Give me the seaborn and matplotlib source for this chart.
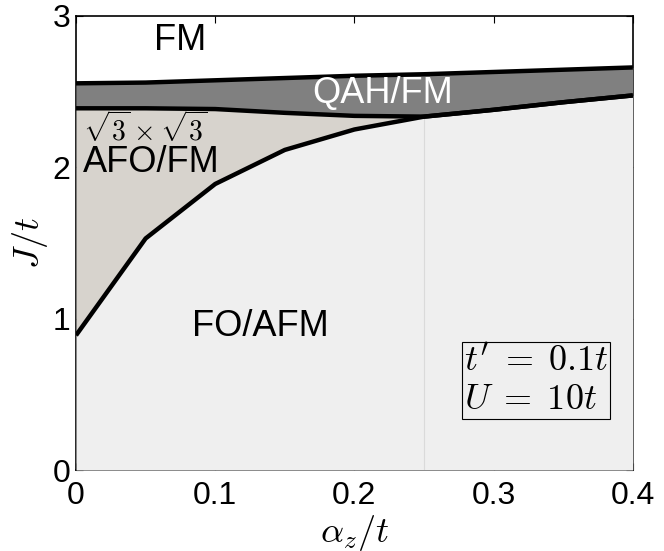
import numpy as np
import pandas as pd
import matplotlib
matplotlib.use("Agg")
import matplotlib.pyplot as plt
import seaborn as sns

# phase boundaries
alpha_z = [0.0, 0.05, 0.10, 0.15, 0.20, 0.25, 0.30, 0.35, 0.40]
j_fm_qah = [2.555, 2.56, 2.575, 2.59, 2.605, 2.615, 2.63, 2.645, 2.66]
j_qah_afo = [2.39, 2.39, 2.385, 2.36, 2.34, 2.335, 2.38, 2.43, 2.475]
j_afo_fo = [0.89, 1.53, 1.89, 2.115, 2.25, 2.335, 2.38, 2.43, 2.475]

x_ticks = [0, 0.1, 0.2, 0.3, 0.4]
x_tick_labels = ["0", "0.1", "0.2", "0.3", "0.4"]
y_ticks = [0, 1, 2, 3]
y_tick_labels = ["0", "1", "2", "3"]

df = pd.DataFrame({"alpha": alpha_z, "top": j_fm_qah, "mid": j_qah_afo, "low": j_afo_fo})

sns.set_style("ticks")
plt.rcParams['font.family'] = ['Liberation Sans', 'DejaVu Sans']
plt.rcParams['mathtext.fontset'] = 'cm'
plt.rcParams['text.color'] = 'black'
plt.rcParams['axes.labelcolor'] = 'black'
plt.rcParams['xtick.color'] = 'black'
plt.rcParams['ytick.color'] = 'black'

fig = plt.figure(figsize=(6.64, 5.51), dpi=100)
ax = fig.add_axes([0.1145, 0.147, 0.8385, 0.824])

# filled regions
ax.fill_between(df["alpha"], 0, df["low"], color="#efefef", lw=0, zorder=1)
ax.fill_between(df["alpha"], df["low"], df["mid"], color="#d7d3cd", lw=0, zorder=1)
ax.fill_between(df["alpha"], df["mid"], df["top"], color="#808080", lw=0, zorder=1)

# faint line where the AFO region closes
ax.vlines(df["alpha"][5], 0, df["low"][5], color="#dadada", lw=0.8, zorder=2)

# boundary lines
for col in ["top", "mid", "low"]:
    sns.lineplot(data=df, x="alpha", y=col, ax=ax, color="black", lw=3.2,
                 zorder=3, solid_capstyle="butt")

ax.set_xlim(0, 0.4)
ax.set_ylim(0, 3)
ax.set_xticks(x_ticks)
ax.set_xticklabels(x_tick_labels)
ax.set_yticks(y_ticks)
ax.set_yticklabels(y_tick_labels)
ax.tick_params(direction="in", length=5, width=0.8, labelsize=23, top=True, right=True)
ax.tick_params(axis="x", pad=8)
ax.tick_params(axis="y", pad=4)
for s in ax.spines.values():
    s.set_color("black")
    s.set_linewidth(1.2)
    s.set_zorder(0.5)

ax.set_xlabel(r"$\alpha_z/t$", fontsize=26, labelpad=1)
ax.set_ylabel(r"$J/t$", fontsize=26, labelpad=2)

# region labels
ax.text(0.0747, 2.84, "FM", fontsize=26, ha="center", va="center", zorder=5)
ax.text(0.220, 2.485, "QAH/FM", fontsize=26, ha="center", va="center", color="white", zorder=5)
ax.text(0.050, 2.25, r"$\sqrt{3}\times\sqrt{3}$", fontsize=20, ha="center", va="center", zorder=5)
ax.text(0.054, 2.03, "AFO/FM", fontsize=26, ha="center", va="center", zorder=5)
ax.text(0.1325, 0.945, "FO/AFM", fontsize=26, ha="center", va="center", zorder=5)
ax.text(0.2785, 0.59, "$t'\\;=\\;0.1t$\n$U\\;=\\;10t$", fontsize=26, ha="left", va="center",
        linespacing=1.1, zorder=5,
        bbox=dict(boxstyle="square,pad=0.06", fc="#efefef", ec="black", lw=0.8))

fig.savefig("out.png", dpi=100)
